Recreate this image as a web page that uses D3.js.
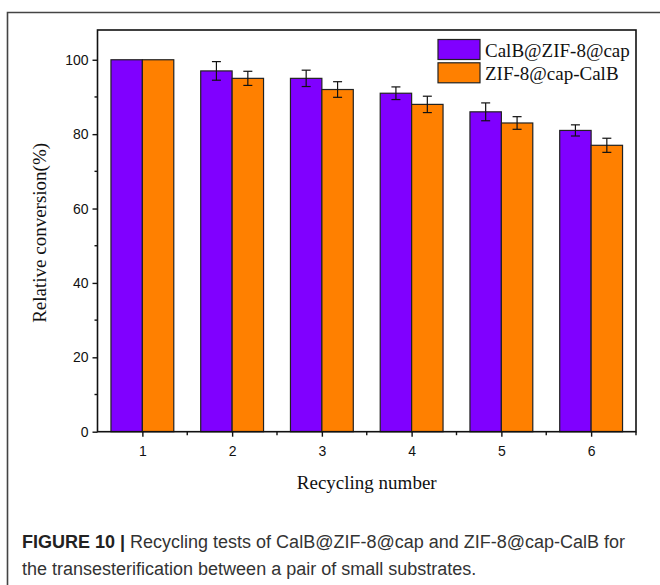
<!DOCTYPE html>
<html>
<head>
<meta charset="utf-8">
<script src="https://cdn.jsdelivr.net/npm/d3@7"></script>
<style>
  body { margin: 0; background: #fff; }
  svg { display: block; }
</style>
</head>
<body>
<script>
(function() {

var cycles     = [1, 2, 3, 4, 5, 6],
    series     = ["CalB@ZIF-8@cap", "ZIF-8@cap-CalB"],
    calbVals   = [100, 97, 95, 91, 86, 81],
    calbErr    = [0, 2.5, 2.2, 1.7, 2.4, 1.5],
    zifVals    = [100, 95, 92, 88, 83, 77],
    zifErr     = [0, 1.9, 2.1, 2.2, 1.7, 1.9],
    yTicks     = [0, 20, 40, 60, 80, 100],
    yMinor     = [10, 30, 50, 70, 90],
    xMinor     = [1.5, 2.5, 3.5, 4.5, 5.5, 6.5],
    colors     = ["#8000ff", "#ff8000"],
    caption1   = "Recycling tests of CalB@ZIF-8@cap and ZIF-8@cap-CalB for",
    caption2   = "the transesterification between a pair of small substrates.";

var W = 660, H = 585,
    left = 97.5, right = 636, top = 30, bottom = 431.7,
    half = 0.35,
    serif = "'Liberation Serif', 'Times New Roman', serif",
    sans  = "'Liberation Sans', Arial, sans-serif";

var svg = d3.select("body").append("svg")
    .attr("width", W)
    .attr("height", H);

// outer figure frame (only left and top visible)
svg.append("path")
    .attr("d", "M7.5," + H + "V12.5H" + W)
    .attr("fill", "none")
    .attr("stroke", "#444")
    .attr("stroke-width", 1.6);

var x = d3.scaleLinear().domain([0.5, 6.5]).range([left, right]),
    y = d3.scaleLinear().domain([0, 108]).range([bottom, top]);

// bars: one group per series
var groups = [
  { vals: calbVals, err: calbErr, x0: -half, x1: 0, color: colors[0] },
  { vals: zifVals,  err: zifErr,  x0: 0, x1: half,  color: colors[1] }
];

groups.forEach(function(g) {
  var data = cycles.map(function(c, i) { return { c: c, v: g.vals[i], e: g.err[i] }; });

  svg.append("g").selectAll("rect")
    .data(data)
    .enter()
    .append("rect")
      .attr("x", function(d) { return x(d.c + g.x0); })
      .attr("y", function(d) { return y(d.v); })
      .attr("width", function(d) { return x(d.c + g.x1) - x(d.c + g.x0); })
      .attr("height", function(d) { return y(0) - y(d.v); })
      .attr("fill", g.color)
      .attr("stroke", "#222")
      .attr("stroke-width", 1.2);

  var eb = svg.append("g")
      .attr("stroke", "#111")
      .attr("stroke-width", 1.2)
    .selectAll("g")
    .data(data.filter(function(d) { return d.e > 0; }))
    .enter()
    .append("g");

  eb.append("line")
      .attr("x1", function(d) { return x(d.c + (g.x0 + g.x1) / 2); })
      .attr("x2", function(d) { return x(d.c + (g.x0 + g.x1) / 2); })
      .attr("y1", function(d) { return y(d.v + d.e); })
      .attr("y2", function(d) { return y(d.v - d.e); });
  [1, -1].forEach(function(s) {
    eb.append("line")
        .attr("x1", function(d) { return x(d.c + (g.x0 + g.x1) / 2) - 4.5; })
        .attr("x2", function(d) { return x(d.c + (g.x0 + g.x1) / 2) + 4.5; })
        .attr("y1", function(d) { return y(d.v + s * d.e); })
        .attr("y2", function(d) { return y(d.v + s * d.e); });
  });
});

// axes
var yAxis = d3.axisLeft(y).tickValues(yTicks).tickSize(5).tickPadding(4),
    xAxis = d3.axisBottom(x).tickValues(cycles).tickFormat(d3.format("d"))
              .tickSize(5).tickPadding(9);

var gy = svg.append("g").attr("transform", "translate(" + left + ",0)").call(yAxis);
var gx = svg.append("g").attr("transform", "translate(0," + bottom + ")").call(xAxis);

[gy, gx].forEach(function(g) {
  g.select(".domain").remove();
  g.selectAll("line").attr("stroke", "#111").attr("stroke-width", 1.4);
  g.selectAll("text")
    .attr("font-family", sans)
    .attr("font-size", 14)
    .attr("fill", "#111");
});

svg.append("g").selectAll("line")
  .data(yMinor)
  .enter()
  .append("line")
    .attr("x1", left - 3).attr("x2", left)
    .attr("y1", function(d) { return y(d); })
    .attr("y2", function(d) { return y(d); })
    .attr("stroke", "#111").attr("stroke-width", 1.4);

svg.append("g").selectAll("line")
  .data(xMinor)
  .enter()
  .append("line")
    .attr("x1", function(d) { return x(d); })
    .attr("x2", function(d) { return x(d); })
    .attr("y1", bottom).attr("y2", bottom + 3.5)
    .attr("stroke", "#111").attr("stroke-width", 1.4);

// plot frame
svg.append("rect")
    .attr("x", left).attr("y", top)
    .attr("width", right - left).attr("height", bottom - top)
    .attr("fill", "none")
    .attr("stroke", "#111")
    .attr("stroke-width", 1.6);

// axis titles
svg.append("text")
    .attr("transform", "translate(46," + ((top + bottom) / 2 + 2) + ") rotate(-90)")
    .attr("text-anchor", "middle")
    .attr("font-family", serif)
    .attr("font-size", 19)
    .attr("fill", "#111")
    .text("Relative conversion(%)");

svg.append("text")
    .attr("x", (left + right) / 2)
    .attr("y", 489)
    .attr("text-anchor", "middle")
    .attr("font-family", serif)
    .attr("font-size", 19)
    .attr("fill", "#111")
    .text("Recycling number");

// legend
var leg = svg.append("g").selectAll("g")
  .data(series)
  .enter()
  .append("g")
    .attr("transform", function(d, i) { return "translate(438," + (39.5 + i * 23.3) + ")"; });

leg.append("rect")
    .attr("width", 42).attr("height", 20)
    .attr("fill", function(d, i) { return colors[i]; })
    .attr("stroke", "#222")
    .attr("stroke-width", 1.2);

leg.append("text")
    .attr("x", 47).attr("y", 17)
    .attr("font-family", serif)
    .attr("font-size", 19)
    .attr("fill", "#111")
    .text(function(d) { return d; });

// caption
var cap = svg.append("text")
    .attr("font-family", sans)
    .attr("font-size", 18)
    .attr("fill", "#333");

cap.append("tspan")
    .attr("x", 22).attr("y", 548)
    .attr("font-weight", "bold")
    .attr("fill", "#222")
    .text("FIGURE 10 | ");
cap.append("tspan")
    .text(caption1);
cap.append("tspan")
    .attr("x", 22).attr("y", 575)
    .text(caption2);

}());
</script>
</body>
</html>
